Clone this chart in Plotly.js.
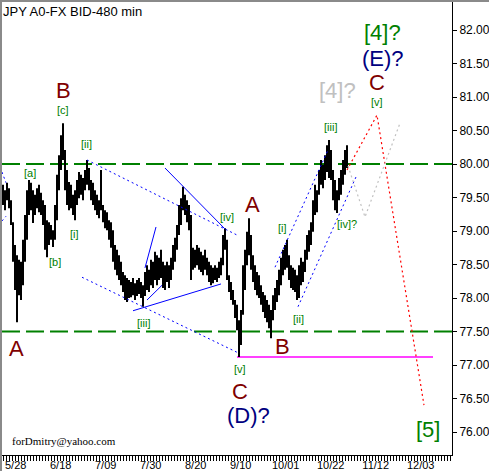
<!DOCTYPE html>
<html>
<head>
<meta charset="utf-8">
<script src="https://cdn.plot.ly/plotly-3.0.1.min.js"></script>
<style>
  html, body { margin: 0; padding: 0; background: #fff; }
  #wrap { position: relative; width: 489px; height: 471px; overflow: hidden; }
  #chart { position: absolute; left: 0; top: 0; width: 489px; height: 471px; }
  .edge { position: absolute; background: #8a8a8a; pointer-events: none; }
</style>
</head>
<body>
<div id="wrap">
  <div id="chart"></div>
  <div class="edge" style="left:0;top:0;width:489px;height:2px;"></div>
  <div class="edge" style="left:0;top:0;width:2px;height:471px;"></div>
</div>
<script>
// JPY 8-hour bars (high / low), one entry per bar, oldest first
const barHigh = [
  79.69,79.61,79.72,79.64,79.46,79.13,78.79,78.64,78.57,78.54,
  78.87,79.24,79.61,79.76,79.72,79.61,79.54,79.64,79.69,79.57,
  79.46,79.39,79.16,79.13,79.09,79.01,79.39,79.84,80.13,80.43,
  80.61,80.21,79.91,79.73,79.69,79.54,79.61,79.76,79.88,79.84,
  79.79,79.91,80.06,79.94,79.76,79.72,79.61,79.54,79.46,79.91,
  79.39,79.31,79.28,79.16,79.13,79.01,78.79,78.72,78.64,78.54,
  78.39,78.34,78.30,78.27,78.24,78.30,78.22,78.27,78.30,78.24,
  78.19,78.39,78.49,78.42,78.57,78.54,78.69,78.64,78.60,78.72,
  78.54,78.49,78.54,78.49,78.60,78.79,78.90,79.09,79.39,79.49,
  79.66,79.54,79.46,79.39,79.24,78.75,78.72,78.79,78.75,78.69,
  78.64,78.72,78.60,78.54,78.49,78.45,78.49,78.45,78.54,78.60,
  78.94,79.04,78.87,78.34,78.24,78.12,77.97,77.90,77.67,77.82,
  78.49,78.72,78.99,79.19,78.94,78.64,78.49,78.39,78.34,78.19,
  78.09,78.04,77.97,77.90,77.82,78.04,78.15,78.27,78.42,78.60,
  78.72,78.79,78.87,78.64,78.49,78.45,78.42,78.34,78.49,78.60,
  78.54,78.72,78.94,79.01,79.13,79.46,79.69,79.61,79.91,80.06,
  79.99,80.13,80.28,80.36,80.21,79.91,79.76,79.61,79.79,79.91,
  80.06,80.21,80.28
];
const barLow = [
  79.39,79.31,79.46,79.34,79.09,78.54,78.12,77.64,78.04,77.97,
  78.19,78.54,78.87,79.24,79.31,79.12,79.24,79.34,79.28,79.24,
  79.09,78.72,78.61,78.79,78.87,78.76,78.87,79.16,79.61,79.91,
  80.06,79.61,79.39,79.31,79.34,79.24,79.16,79.39,79.49,79.54,
  79.46,79.61,79.69,79.61,79.46,79.39,79.31,79.24,79.19,79.31,
  79.13,79.04,79.01,78.87,78.75,78.54,78.42,78.34,78.27,78.19,
  78.09,77.97,77.94,78.00,78.01,78.04,77.97,78.03,78.06,78.00,
  77.87,78.03,78.12,78.09,78.19,78.15,78.27,78.19,78.27,78.30,
  78.15,78.12,78.24,78.15,78.27,78.42,78.54,78.72,78.94,79.09,
  79.31,79.24,79.13,79.01,78.27,78.42,78.45,78.49,78.42,78.39,
  78.34,78.42,78.34,78.24,78.19,78.22,78.27,78.24,78.30,78.34,
  78.49,78.72,78.27,78.09,77.97,77.90,77.70,77.52,77.12,77.30,
  77.75,78.12,78.49,78.64,78.42,78.24,78.12,78.04,78.00,77.90,
  77.79,77.70,77.64,77.55,77.40,77.67,77.82,77.94,78.04,78.19,
  78.34,78.42,78.45,78.27,78.15,78.12,78.09,77.97,78.00,78.19,
  78.24,78.39,78.57,78.69,78.79,78.99,79.24,79.28,79.54,79.69,
  79.64,79.76,79.88,79.79,79.76,79.46,79.31,79.27,79.46,79.54,
  79.69,79.84,79.94
];

// date labels along the bottom axis, one every three weeks (15 trading days)
const dateLabels = ['5/28','6/18','7/09','7/30','8/20','9/10','10/01','10/22','11/12','12/03'];
const firstLabelBar = 6.35;
const barsPerDay = 1.5;
const daysPerLabel = 15;

// horizontal levels
const levelLines = [80.00, 77.50];
const supportLevel = { from: 117, to: 215, price: 77.12 };

// wave construction lines: [bar, price] points
const triangleUpper = [[42, 80.06], [117, 78.94]];
const triangleLower = [[39.5, 78.31], [117, 77.19]];
const trendDown = [[81, 79.94], [111, 79.03]];
const trendUp = [[65, 77.81], [109, 78.21]];
const wedgeSteep = [[71, 78.45], [76.5, 79.06]];
const wedgeFlat = [[72, 77.97], [79.5, 78.19]];
const edgeUpper = [[-0.5, 79.88], [1.5, 79.72]];
const edgeLower = [[-0.5, 79.15], [1.5, 79.22]];
const channelUpper = [[136, 78.46], [162.5, 80.21]];
const channelLower = [[147.5, 77.87], [177, 79.84]];
const mainPath = [[172, 79.91], [187, 80.73], [210.5, 76.40]];
const altPath = [[172.5, 79.97], [181, 79.21], [198.5, 80.61]];

// wave labels: text, bar, price, colour, size
const DR = '#800000', GR = '#008000', NV = '#000080', LG = '#c0c0c0';
const waveLabels = [
  ['A', 6.5, 77.25, DR, 22],
  ['B', 30, 81.10, DR, 22],
  ['[c]', 30, 80.81, GR, 11],
  ['[a]', 13.5, 79.87, GR, 11],
  ['[ii]', 41.5, 80.30, GR, 11],
  ['[b]', 26, 78.54, GR, 11],
  ['[i]', 35.5, 78.96, GR, 11],
  ['[iii]', 70, 77.63, GR, 11],
  ['[iv]', 112, 79.21, GR, 11],
  ['A', 124.5, 79.40, DR, 22],
  ['[i]', 139.5, 79.04, GR, 11],
  ['[ii]', 147.5, 77.69, GR, 11],
  ['B', 139.5, 77.27, DR, 22],
  ['[v]', 118.5, 76.94, GR, 11],
  ['C', 118.5, 76.60, DR, 22],
  ['(D)?', 122.5, 76.25, NV, 22],
  ['[5]', 212.5, 76.04, GR, 22],
  ['[iii]', 163.5, 80.55, GR, 11],
  ['[iv]?', 172, 79.10, GR, 11],
  ['[v]', 187, 80.93, GR, 11],
  ['C', 187, 81.21, DR, 22],
  ['(E)?', 190, 81.57, NV, 22],
  ['[4]?', 189.5, 81.96, GR, 22],
  ['[4]?', 167, 81.09, LG, 22]
];

// high-low bars as vertical segments
const segX = [], segY = [];
barHigh.forEach((h, i) => {
  segX.push(i, i, null);
  segY.push(h, barLow[i], null);
});

const bars = {
  type: 'scatter', mode: 'lines', x: segX, y: segY,
  line: { color: '#000000', width: 2 }, hoverinfo: 'skip', showlegend: false,
  connectgaps: false
};

function pathShape(pts, color, dash, width, layer) {
  let d = '';
  pts.forEach((p, k) => { d += (k ? ' L' : 'M') + p[0] + ',' + p[1]; });
  return { type: 'path', xref: 'x', yref: 'y', path: d, layer: layer || 'above',
           line: { color: color, width: width, dash: dash } };
}

const DOT = '2px,3px';
const shapes = [];
levelLines.forEach(v => shapes.push({
  type: 'line', xref: 'paper', x0: 0, x1: 1, yref: 'y', y0: v, y1: v, layer: 'below',
  line: { color: '#008000', width: 2, dash: '18px,6px' }
}));
shapes.push({
  type: 'line', xref: 'x', yref: 'y', x0: supportLevel.from, x1: supportLevel.to,
  y0: supportLevel.price, y1: supportLevel.price, layer: 'below',
  line: { color: '#ff00ff', width: 1.5 }
});
[triangleUpper, triangleLower, edgeUpper, edgeLower, channelUpper, channelLower]
  .forEach(p => shapes.push(pathShape(p, '#0000ff', DOT, 1)));
[trendDown, trendUp, wedgeSteep, wedgeFlat]
  .forEach(p => shapes.push(pathShape(p, '#0000ff', 'solid', 1)));
shapes.push(pathShape(mainPath, '#ff0000', DOT, 1.2));
shapes.push(pathShape(altPath, '#c0c0c0', DOT, 1.2));

const annotations = waveLabels.map(l => ({
  text: l[0], x: l[1], y: l[2], xref: 'x', yref: 'y', showarrow: false,
  xanchor: 'center', yanchor: 'middle',
  font: { family: 'Liberation Sans, Arial, sans-serif', size: l[4], color: l[3] }
}));
annotations.push({
  text: 'forDmitry@yahoo.com', xref: 'paper', yref: 'paper', x: 8 / 450, y: 14 / 453,
  xanchor: 'left', yanchor: 'middle', showarrow: false,
  font: { family: 'Liberation Serif, Times New Roman, serif', size: 11, color: '#000000' }
});

const tickVals = dateLabels.map((_, k) => firstLabelBar + k * daysPerLabel * barsPerDay);

const layout = {
  width: 489, height: 471,
  margin: { l: 2, r: 37, t: 2, b: 16, pad: 0 },
  paper_bgcolor: '#ffffff', plot_bgcolor: '#ffffff',
  showlegend: false,
  title: {
    text: 'JPY A0-FX BID-480 min', x: 3 / 489, xanchor: 'left', xref: 'container',
    y: 1 - 11 / 471, yanchor: 'middle', yref: 'container',
    font: { family: 'Liberation Sans, Arial, sans-serif', size: 13, color: '#000000' }
  },
  xaxis: {
    range: [-0.5, 224.5], showgrid: false, zeroline: false,
    showline: true, linecolor: '#000000', linewidth: 1,
    tickmode: 'array', tickvals: tickVals, ticktext: dateLabels,
    ticks: 'outside', ticklen: 5, tickcolor: '#000000', tickwidth: 1,
    ticklabelstandoff: -5,
    minor: { tickmode: 'linear', tick0: firstLabelBar, dtick: barsPerDay,
             ticks: 'outside', ticklen: 5, tickcolor: '#000000', tickwidth: 1, showgrid: false },
    tickfont: { family: 'Liberation Sans, Arial, sans-serif', size: 11, color: '#000000' },
    fixedrange: true
  },
  yaxis: {
    side: 'right', range: [75.657, 82.418], showgrid: false, zeroline: false,
    showline: true, linecolor: '#000000', linewidth: 1,
    tickmode: 'linear', tick0: 76, dtick: 0.5, tickformat: '.2f',
    ticks: 'outside', ticklen: 4, tickcolor: '#000000',
    tickfont: { family: 'Liberation Sans, Arial, sans-serif', size: 12, color: '#000000' },
    fixedrange: true
  },
  shapes: shapes,
  annotations: annotations
};

Plotly.newPlot('chart', [bars], layout, { staticPlot: true, displayModeBar: false });
</script>
</body>
</html>
